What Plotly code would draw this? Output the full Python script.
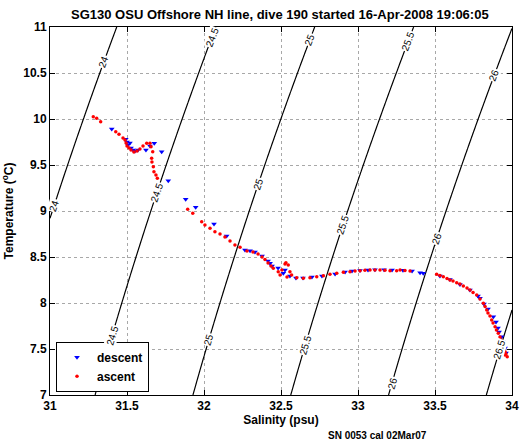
import numpy as np
import plotly.graph_objects as go

title_text = "SG130 OSU Offshore NH line, dive 190 started 16\u2011Apr\u20112008 19:06:05"
x_ticks = [31, 31.5, 32, 32.5, 33, 33.5, 34]
y_ticks = [7, 7.5, 8, 8.5, 9, 9.5, 10, 10.5, 11]
sigma_levels = [24, 24.5, 25, 25.5, 26, 26.5]
# temperatures at which each density contour carries a label
label_temps = {
    24: [10.62, 9.06],
    24.5: [10.89, 9.2, 7.65],
    25: [10.86, 9.3, 7.6],
    25.5: [10.85, 8.85, 7.55],
    26: [10.48, 8.70, 7.13],
    26.5: [7.49],
}

descent_S = [31.401, 31.492, 31.500, 31.506, 31.519, 31.526, 31.539, 31.552, 31.571, 31.623,
             31.649, 31.677, 31.725, 31.768, 31.881, 31.946, 32.065, 32.147, 32.266, 32.299,
             32.331, 32.377, 32.416, 32.429, 32.442, 32.481, 32.515, 32.526, 32.558, 32.597,
             32.643, 32.701, 32.766, 32.851, 32.916, 32.961, 33.013, 33.065, 33.110, 33.169,
             33.221, 33.292, 33.351, 33.403, 33.424, 33.532, 33.597, 33.662, 33.727, 33.779,
             33.792, 33.818, 33.844, 33.879, 33.896, 33.909, 33.916, 33.933, 33.942, 33.955,
             33.961]
descent_T = [9.891, 9.779, 9.750, 9.717, 9.739, 9.685, 9.663, 9.652, 9.663, 9.663,
             9.707, 9.736, 9.645, 9.329, 9.127, 9.040, 8.859, 8.728, 8.576, 8.568,
             8.554, 8.511, 8.457, 8.432, 8.402, 8.380, 8.323, 8.359, 8.293, 8.272,
             8.272, 8.283, 8.293, 8.315, 8.337, 8.348, 8.353, 8.359, 8.362, 8.362,
             8.359, 8.355, 8.348, 8.329, 8.323, 8.293, 8.255, 8.201, 8.141, 8.076,
             8.051, 7.989, 7.935, 7.851, 7.793, 7.728, 7.685, 7.634, 7.576, 7.511,
             7.457]

ascent_S = [31.281, 31.303, 31.329, 31.427, 31.448, 31.474, 31.487, 31.494, 31.500, 31.513,
            31.526, 31.545, 31.565, 31.584, 31.604, 31.628, 31.649, 31.656, 31.667, 31.660,
            31.662, 31.671, 31.675, 31.688, 31.697, 31.894, 31.927, 31.985, 32.006, 32.039,
            32.071, 32.104, 32.136, 32.169, 32.201, 32.234, 32.279, 32.318, 32.351, 32.377,
            32.396, 32.416, 32.435, 32.450, 32.482, 32.494, 32.506, 32.526, 32.532, 32.547,
            32.539, 32.558, 32.569, 32.602, 32.645, 32.688, 32.732, 32.775, 32.818, 32.862,
            32.905, 32.948, 32.981, 33.013, 33.045, 33.078, 33.110, 33.143, 33.175, 33.208,
            33.251, 33.273, 33.305, 33.338, 33.511, 33.532, 33.554, 33.578, 33.597, 33.617,
            33.641, 33.662, 33.684, 33.708, 33.727, 33.747, 33.771, 33.792, 33.814, 33.825,
            33.836, 33.844, 33.857, 33.868, 33.877, 33.890, 33.899, 33.911, 33.922, 33.929,
            33.944, 33.948, 33.955, 33.961, 33.969, 33.955, 33.948]
ascent_T = [10.025, 10.008, 9.971, 9.862, 9.834, 9.793, 9.772, 9.739, 9.707, 9.685,
            9.663, 9.641, 9.652, 9.674, 9.707, 9.736, 9.736, 9.699, 9.645, 9.573,
            9.533, 9.482, 9.427, 9.391, 9.355, 9.018, 8.975, 8.884, 8.848, 8.812,
            8.775, 8.750, 8.717, 8.674, 8.630, 8.605, 8.565, 8.554, 8.533, 8.500,
            8.473, 8.435, 8.402, 8.377, 8.340, 8.304, 8.359, 8.424, 8.438, 8.413,
            8.283, 8.340, 8.304, 8.275, 8.268, 8.275, 8.286, 8.297, 8.312, 8.323,
            8.334, 8.340, 8.348, 8.351, 8.355, 8.359, 8.359, 8.359, 8.355, 8.351,
            8.351, 8.359, 8.353, 8.348, 8.312, 8.299, 8.286, 8.266, 8.250, 8.239,
            8.221, 8.207, 8.185, 8.163, 8.141, 8.114, 8.087, 8.043, 7.997, 7.962,
            7.924, 7.891, 7.859, 7.815, 7.783, 7.742, 7.707, 7.671, 7.630, 7.598,
            7.543, 7.511, 7.471, 7.446, 7.416, 7.435, 7.478]


def sigma_t(S, T):
    rho_w = (999.842594 + 6.793952e-2 * T - 9.095290e-3 * T**2 + 1.001685e-4 * T**3
             - 1.120083e-6 * T**4 + 6.536332e-9 * T**5)
    A = 8.24493e-1 - 4.0899e-3 * T + 7.6438e-5 * T**2 - 8.2467e-7 * T**3 + 5.3875e-9 * T**4
    B = -5.72466e-3 + 1.0227e-4 * T - 1.6546e-6 * T**2
    C = 4.8314e-4
    return rho_w + A * S + B * S**1.5 + C * S**2 - 1000.0


def salinity_on_level(level, T):
    lo, hi = 25.0, 40.0
    for _ in range(60):
        mid = 0.5 * (lo + hi)
        if sigma_t(mid, T) < level:
            lo = mid
        else:
            hi = mid
    return 0.5 * (lo + hi)


s_grid = np.linspace(31, 34, 151)
t_grid = np.linspace(7, 11, 161)
SS, TT = np.meshgrid(s_grid, t_grid)
ZZ = sigma_t(SS, TT)

font_family = "Liberation Sans, Arial, sans-serif"

# plot-area size in pixels (used only for label rotation)
W = 530 - 50 - 18
H = 442 - 27 - 47
px_per_S = W / 3.0
px_per_T = H / 4.0

fig = go.Figure()
fig.add_trace(go.Contour(
    x=s_grid, y=t_grid, z=ZZ,
    contours=dict(start=sigma_levels[0], end=sigma_levels[-1], size=0.5,
                  coloring="lines", showlabels=False),
    colorscale=[[0, "black"], [1, "black"]],
    line=dict(width=1.2),
    showscale=False, showlegend=False, hoverinfo="skip",
))
fig.add_trace(go.Scatter(
    x=descent_S, y=descent_T, mode="markers", name="descent",
    marker=dict(symbol="triangle-down", size=5, color="#0000ff", line=dict(width=0)),
))
fig.add_trace(go.Scatter(
    x=ascent_S, y=ascent_T, mode="markers", name="ascent",
    marker=dict(symbol="circle", size=3.5, color="#ff0000", line=dict(width=0)),
))

annotations = []
for lev in sigma_levels:
    for T in label_temps[lev]:
        S = salinity_on_level(lev, T)
        S2 = salinity_on_level(lev, T + 0.05)
        dx = (S2 - S) * px_per_S
        dy = 0.05 * px_per_T
        ang = np.degrees(np.arctan2(dy, dx))
        txt = f"{lev:g}"
        annotations.append(dict(
            x=S, y=T, xref="x", yref="y", text=txt, showarrow=False,
            textangle=-ang, bgcolor="white", borderpad=0,
            font=dict(family=font_family, size=10, color="black"),
        ))

annotations.append(dict(text="SN 0053 cal 02Mar07", xref="paper", yref="paper",
                        x=0.708, y=-0.111, xanchor="center", yanchor="middle", showarrow=False,
                        font=dict(family=font_family, size=10, color="black", weight="bold")))

axis_common = dict(
    showline=True, linecolor="black", linewidth=1, mirror="ticks",
    ticks="inside", ticklen=5, tickcolor="black",
    showgrid=True, gridcolor="#a8a8a8", griddash="dot", gridwidth=1,
    zeroline=False, automargin=False,
    tickfont=dict(family=font_family, size=12, color="black", weight="bold"),
)

fig.update_layout(
    width=530, height=442,
    margin=dict(l=50, r=18, t=27, b=47, autoexpand=False),
    paper_bgcolor="white", plot_bgcolor="white",
    font=dict(family=font_family, color="black"),
    title=dict(text=title_text, x=0.528, xanchor="center", y=0.968, yanchor="middle",
               font=dict(family=font_family, size=13, color="black", weight="bold")),
    xaxis=dict(range=[31, 34], tickvals=x_ticks,
               title=dict(text="Salinity (psu)", standoff=3,
                          font=dict(family=font_family, size=12, weight="bold")),
               **axis_common),
    yaxis=dict(range=[7, 11], tickvals=y_ticks,
               title=dict(text="Temperature (<sup>o</sup>C)", standoff=8,
                          font=dict(family=font_family, size=12, weight="bold")),
               **axis_common),
    legend=dict(x=0.013, y=0.009, xanchor="left", yanchor="bottom",
                bgcolor="white", bordercolor="black", borderwidth=1,
                font=dict(family=font_family, size=12, color="black", weight="bold"),
                tracegroupgap=0),
    annotations=annotations,
    showlegend=True,
)

fig.write_html("out.html", config={"displayModeBar": False},
               post_script="document.body.style.margin='0';document.body.style.overflow='hidden';")
